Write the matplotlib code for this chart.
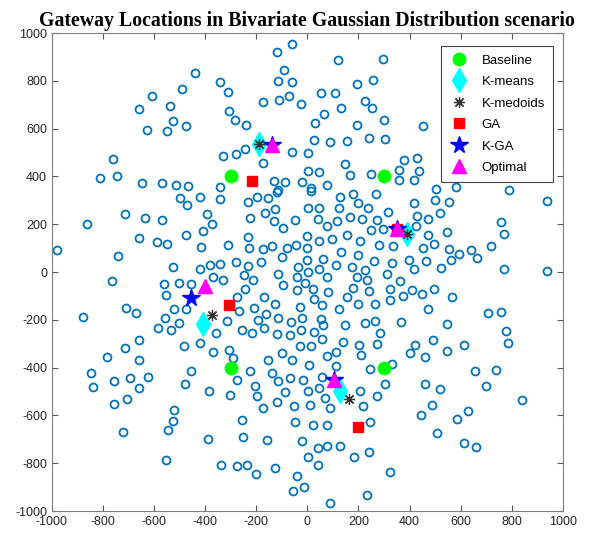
import matplotlib
matplotlib.use('Agg')
import matplotlib.pyplot as plt
import numpy as np

plt.rcParams['font.family'] = ['Liberation Sans', 'DejaVu Sans']
plt.rcParams['axes.unicode_minus'] = False

# sensor node positions, read region by region
top_left = [(-438, 835), (-609, 736), (-490, 766), (-661, 683), (-539, 697), (-525, 634),
            (-627, 595), (-548, 592), (-476, 610), (-760, 474), (-813, 392), (-747, 400),
            (-647, 374), (-571, 374), (-514, 363), (-468, 361)]
top_mid = [(-62, 953), (-120, 920), (120, 886), (295, 892), (-90, 844), (-341, 797), (-114, 800),
           (-62, 797), (256, 804), (194, 786), (-311, 755), (52, 751), (107, 748), (-175, 712),
           (-110, 718), (-72, 736), (-24, 705), (224, 716), (252, 688), (-308, 675), (-285, 636),
           (-239, 615), (133, 688), (64, 661), (28, 622), (195, 616), (299, 638), (24, 551),
           (90, 544), (154, 548), (240, 562), (304, 558), (-243, 516), (-280, 492), (-331, 484),
           (-172, 457), (-59, 503), (1, 500), (148, 452), (2, 421), (45, 418), (165, 407),
           (250, 410), (-132, 379), (-88, 376), (-21, 376), (-342, 354), (16, 351), (78, 363),
           (-117, 344)]
top_right = [(453, 612), (378, 467), (431, 477), (360, 428), (438, 424), (360, 386), (418, 386),
             (503, 349), (580, 354), (790, 344)]
mid_left = [(-499, 309), (-470, 281), (-421, 316), (-713, 242), (-636, 228), (-570, 216),
            (-862, 202), (-394, 241), (-372, 202), (-407, 170), (-474, 155), (-660, 141),
            (-588, 127), (-549, 116), (-415, 104), (-979, 92), (-740, 68), (-526, 21), (-422, 13),
            (-383, 31), (-369, -20), (-766, -39), (-562, -52), (-503, -46), (-455, -52),
            (-553, -96), (-710, -150), (-669, -170), (-522, -153), (-474, -155), (-878, -189),
            (-559, -194), (-503, -213), (-583, -233), (-535, -244), (-358, -256), (-661, -284),
            (-483, -311), (-422, -298), (-714, -318)]
mid_mid = [(-341, 305), (-233, 292), (-197, 312), (-155, 309), (-120, 337), (16, 340), (128, 316),
           (180, 326), (269, 326), (200, 288), (237, 270), (314, 251), (-226, 226), (-165, 247),
           (-127, 265), (-130, 214), (-49, 216), (3, 270), (45, 270), (122, 267), (42, 221),
           (78, 194), (115, 212), (167, 231), (212, 221), (273, 216), (250, 174), (295, 181),
           (-97, 184), (-234, 146), (-230, 100), (-311, 114), (-175, 95), (-137, 111), (-81, 100),
           (-44, 114), (0, 152), (0, 99), (47, 131), (97, 139), (156, 153), (205, 128), (281, 114),
           (130, 84), (198, 70), (-101, 63), (-181, 42), (-280, 42), (-341, 33), (-233, 24),
           (-250, -11), (-212, -32), (-329, -33), (-37, 22), (-2, 51), (61, 54), (112, 29),
           (173, 22), (226, 8), (260, 47), (312, -7), (-116, -7), (-41, -22), (1, 0), (45, 11),
           (76, -22), (-8, -45), (-95, -56), (-42, -75), (21, -70), (82, -84), (193, -22),
           (233, -33), (177, -66), (243, -81), (324, -70), (-246, -70), (-274, -104), (-171, -104),
           (25, -113), (155, -104), (198, -134), (263, -134), (322, -116), (-127, -134),
           (-29, -145), (59, -139), (122, -153), (-269, -162), (-208, -150), (-163, -174),
           (-194, -201), (-116, -192), (-20, -192), (-64, -209), (52, -196), (-315, -206),
           (-25, -241), (-168, -234), (-215, -254), (-256, -241), (-119, -259), (-68, -262),
           (25, -251), (63, -220), (58, -279), (146, -220), (224, -212), (266, -206), (285, -256),
           (139, -293), (202, -304), (273, -301), (-29, -311), (14, -311)]
mid_right = [(418, 288), (500, 302), (554, 295), (937, 298), (429, 235), (473, 223), (518, 249),
             (425, 191), (759, 209), (768, 159), (473, 153), (545, 166), (334, 107), (453, 100),
             (496, 117), (553, 96), (593, 77), (639, 93), (662, 58), (719, 111), (331, 38),
             (399, 49), (417, 12), (464, 45), (522, 17), (561, 51), (768, 13), (936, 3),
             (361, -36), (408, -74), (375, -102), (447, -92), (496, -71), (567, -106), (474, -153),
             (706, -171), (759, -169), (366, -209), (548, -216), (779, -245), (493, -283),
             (422, -304), (613, -304), (785, -298)]
low_left = [(-369, -335), (-784, -357), (-846, -421), (-839, -481), (-758, -457), (-693, -443),
            (-661, -370), (-625, -441), (-661, -486), (-758, -552), (-708, -530), (-455, -415),
            (-481, -468), (-387, -496), (-522, -578), (-526, -624), (-547, -659), (-723, -669),
            (-389, -698), (-555, -787)]
low_mid = [(-308, -325), (-293, -360), (-155, -367), (-101, -339), (-62, -370), (6, -388),
           (78, -353), (113, -335), (113, -392), (211, -349), (-225, -415), (-277, -452),
           (-137, -422), (-114, -455), (-69, -443), (-16, -453), (58, -438), (247, -406),
           (330, -383), (304, -468), (-204, -478), (-197, -520), (-302, -516), (-88, -502),
           (1, -499), (47, -485), (68, -527), (-119, -544), (-172, -571), (-54, -562), (11, -555),
           (87, -569), (205, -496), (218, -562), (274, -520), (-256, -620), (-47, -627),
           (23, -641), (77, -641), (247, -627), (-251, -689), (-158, -704), (-23, -709),
           (40, -736), (78, -726), (129, -726), (3, -772), (183, -775), (243, -754), (42, -808),
           (-337, -808), (-276, -812), (-235, -808), (-203, -847), (-127, -822), (-41, -852),
           (325, -836), (-56, -917), (-15, -899), (234, -931), (87, -966)]
low_right = [(401, -339), (461, -357), (548, -332), (658, -413), (739, -410), (460, -467),
             (519, -489), (701, -477), (840, -534), (487, -556), (443, -597), (628, -580),
             (584, -615), (506, -675), (614, -715), (661, -732)]

# gateway locations for each method
baseline_x = [-300, 300, -300, 300]
baseline_y = [400, 400, -400, -400]
kmeans_x = [-191, 388, -408, 126]
kmeans_y = [535, 160, -216, -499]
kmedoids_x = [-191, 388, -372, 163]
kmedoids_y = [535, 160, -181, -530]
ga_x = [-215, 350, -308, 198]
ga_y = [379, 181, -139, -650]
kga_x = [-137, 350, -456, 103]
kga_y = [532, 181, -109, -452]
opt_x = [-137, 350, -402, 103]
opt_y = [532, 181, -57, -452]

nodes = np.array(top_left + top_mid + top_right + mid_left + mid_mid + mid_right
                 + low_left + low_mid + low_right)

fig = plt.figure(figsize=(5.9, 5.4), dpi=100)
ax = fig.add_axes([0.088, 0.0537, 0.866, 0.885])

ax.plot(nodes[:, 0], nodes[:, 1], 'o', mfc='none', mec='#0072BD', ms=5.7, mew=1.3, ls='none')

ax.plot(baseline_x, baseline_y, 'o', color='#00FF00', ms=9, ls='none', label='Baseline')
ax.plot(kmeans_x, kmeans_y, 'd', color='#00FFFF', ms=12, ls='none', label='K-means')
ax.plot(kmedoids_x, kmedoids_y, marker=(8, 2, 0), color='#333333', mew=0.9, ms=8,
        ls='none', label='K-medoids')
ax.plot(ga_x, ga_y, 's', color='#FF0000', ms=6.5, ls='none', label='GA')
ax.plot(kga_x, kga_y, '*', color='#0000FF', ms=13, ls='none', label='K-GA')
ax.plot(opt_x, opt_y, '^', color='#FF00FF', ms=10, ls='none', label='Optimal')

ax.set_xlim(-1000, 1000)
ax.set_ylim(-1000, 1000)
ax.set_xticks(np.arange(-1000, 1001, 200))
ax.set_yticks(np.arange(-1000, 1001, 200))
ax.tick_params(direction='in', top=True, right=True, length=4, labelsize=9,
               color='#555555', labelcolor='#262626')
for s in ax.spines.values():
    s.set_color('#808080')

ax.set_title('Gateway Locations in Bivariate Gaussian Distribution scenario',
             family='Liberation Serif', weight='bold', fontsize=14.3, pad=5)

leg = ax.legend(loc='upper right', bbox_to_anchor=(0.981, 0.972), borderaxespad=0,
                fancybox=False, framealpha=1, edgecolor='#444444', fontsize=9.5,
                labelspacing=0.7, handlelength=1.6, handletextpad=0.9, borderpad=0.6)
leg.get_frame().set_linewidth(0.8)

fig.savefig('out.png', dpi=100)
